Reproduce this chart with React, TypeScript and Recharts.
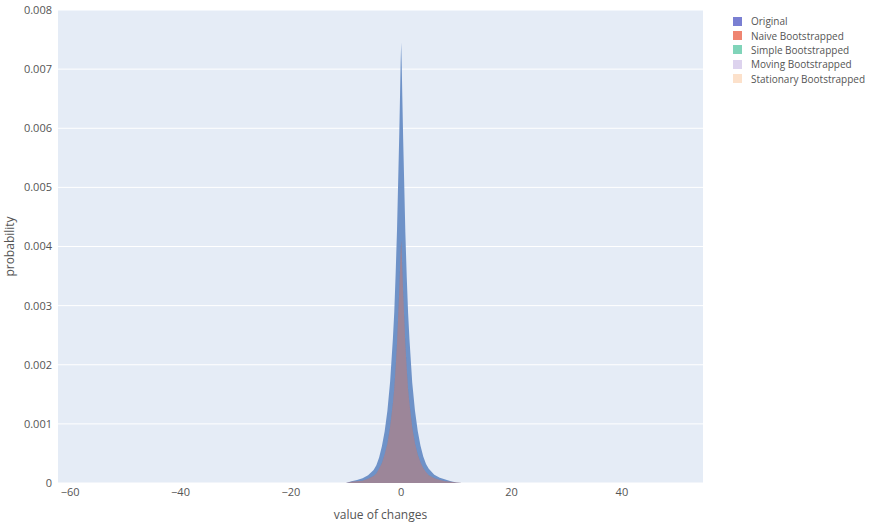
import { ComposedChart, Area, XAxis, YAxis, CartesianGrid, Label } from 'recharts'

const X_VALUES = [-10, -9, -8, -7, -6, -5, -4.5, -4, -3.5, -3, -2.5, -2, -1.5, -1.25, -1, -0.75, -0.5, -0.35, -0.2, -0.1, 0, 0.1, 0.2, 0.35, 0.5, 0.75, 1, 1.25, 1.5, 2, 2.5, 3, 3.5, 4, 4.5, 5, 6, 7, 8, 9, 10, 11]

const ORIGINAL = [0, 0.00003, 0.00005, 0.00008, 0.00013, 0.00022, 0.0003, 0.00043, 0.00062, 0.00087, 0.00122, 0.00172, 0.00245, 0.0029, 0.00355, 0.0043, 0.0053, 0.0059, 0.0066, 0.0071, 0.00745, 0.00705, 0.00655, 0.00585, 0.00525, 0.00425, 0.0035, 0.00288, 0.00243, 0.0017, 0.00122, 0.00088, 0.00063, 0.00045, 0.00032, 0.00024, 0.00014, 0.00009, 0.00006, 0.00003, 0.00001, 0]
const NAIVE = [0, 0.00002, 0.00003, 0.00004, 0.00007, 0.00012, 0.00016, 0.00024, 0.00034, 0.00048, 0.00067, 0.00095, 0.00135, 0.0016, 0.00195, 0.00237, 0.00292, 0.00325, 0.00363, 0.0039, 0.0041, 0.00388, 0.0036, 0.00322, 0.00289, 0.00234, 0.00193, 0.00158, 0.00134, 0.00094, 0.00067, 0.00048, 0.00035, 0.00025, 0.00018, 0.00013, 0.00008, 0.00005, 0.00003, 0.00002, 0.00001, 0]
const SIMPLE = [0, 0.00002, 0.00003, 0.00004, 0.00007, 0.00012, 0.00017, 0.00023, 0.00035, 0.00047, 0.00068, 0.00094, 0.00136, 0.00159, 0.00196, 0.00236, 0.00291, 0.00326, 0.00362, 0.00391, 0.00408, 0.00389, 0.00359, 0.00323, 0.00288, 0.00235, 0.00192, 0.00159, 0.00133, 0.00095, 0.00066, 0.00049, 0.00034, 0.00025, 0.00017, 0.00013, 0.00008, 0.00005, 0.00003, 0.00002, 0.00001, 0]
const MOVING = [0, 0.00002, 0.00003, 0.00004, 0.00007, 0.00012, 0.00016, 0.00024, 0.00034, 0.00048, 0.00067, 0.00094, 0.00134, 0.00161, 0.00194, 0.00238, 0.00293, 0.00324, 0.00364, 0.00389, 0.00411, 0.00387, 0.00361, 0.00321, 0.0029, 0.00233, 0.00194, 0.00157, 0.00135, 0.00093, 0.00068, 0.00047, 0.00035, 0.00024, 0.00018, 0.00012, 0.00008, 0.00005, 0.00003, 0.00002, 0.00001, 0]
const STATIONARY = [0, 0.00002, 0.00003, 0.00004, 0.00007, 0.00012, 0.00016, 0.00024, 0.00033, 0.00048, 0.00066, 0.00095, 0.00135, 0.0016, 0.00195, 0.00236, 0.00292, 0.00325, 0.00362, 0.0039, 0.00409, 0.00388, 0.0036, 0.00322, 0.00289, 0.00234, 0.00193, 0.00158, 0.00134, 0.00094, 0.00067, 0.00048, 0.00034, 0.00025, 0.00018, 0.00013, 0.00008, 0.00005, 0.00003, 0.00002, 0.00001, 0]

const X_TICKS = [-60, -40, -20, 0, 20, 40]
const Y_TICKS = [0, 0.001, 0.002, 0.003, 0.004, 0.005, 0.006, 0.007, 0.008]

const SERIES = [
  { key: 'original', name: 'Original', fill: '#6e92c8', opacity: 1, swatch: '#7a7fd2' },
  { key: 'naive', name: 'Naive Bootstrapped', fill: '#EF553B', opacity: 0.3, swatch: '#ef8571' },
  { key: 'simple', name: 'Simple Bootstrapped', fill: '#00cc96', opacity: 0.08, swatch: '#80d4b9' },
  { key: 'moving', name: 'Moving Bootstrapped', fill: '#ab63fa', opacity: 0.1, swatch: '#ddd3ee' },
  { key: 'stationary', name: 'Stationary Bootstrapped', fill: '#FFA15A', opacity: 0.15, swatch: '#fce1cb' },
]

const rows = X_VALUES.map((x, i) => ({
  x,
  original: ORIGINAL[i],
  naive: NAIVE[i],
  simple: SIMPLE[i],
  moving: MOVING[i],
  stationary: STATIONARY[i],
}))

const FONT = '"Open Sans", sans-serif'
const fmtX = (v: number) => (v < 0 ? '\u2212' + Math.abs(v) : String(v))

export default function App() {
  return (
    <div style={{ position: 'absolute', left: 0, top: 0, width: 876, height: 528, background: '#fff', fontFamily: FONT }}>
      <ComposedChart width={876} height={528} data={rows} margin={{ top: 10, right: 173, left: 0, bottom: 0 }}>
        <CartesianGrid fill="#E5ECF6" stroke="#fff" strokeWidth={1} vertical={false} />
        <XAxis
          dataKey="x"
          type="number"
          domain={[-62.2, 54.7]}
          ticks={X_TICKS}
          tickFormatter={fmtX}
          allowDataOverflow
          axisLine={false}
          tickLine={false}
          tickSize={0}
          tickMargin={5}
          height={45}
          tick={{ fontSize: 11, fill: '#555', fontFamily: FONT }}
        >
          <Label value="value of changes" position="insideBottom" offset={9} style={{ fontSize: 12, fill: '#555', fontFamily: FONT }} />
        </XAxis>
        <YAxis
          type="number"
          domain={[0, 0.008]}
          ticks={Y_TICKS}
          width={58}
          axisLine={false}
          tickLine={false}
          tickSize={0}
          tickMargin={6}
          tick={{ fontSize: 11, fill: '#555', fontFamily: FONT }}
        >
          <Label value="probability" angle={-90} position="insideLeft" offset={10} style={{ textAnchor: 'middle', fontSize: 12, fill: '#555', fontFamily: FONT }} />
        </YAxis>
        {SERIES.map(s => (
          <Area
            key={s.key}
            dataKey={s.key}
            name={s.name}
            type="linear"
            stroke="none"
            fill={s.fill}
            fillOpacity={s.opacity}
            isAnimationActive={false}
          />
        ))}
      </ComposedChart>
      <div style={{ position: 'absolute', left: 733, top: 14 }}>
        {SERIES.map(s => (
          <div key={s.key} style={{ display: 'flex', alignItems: 'center', height: 14.4, fontSize: 10, color: '#555' }}>
            <span style={{ width: 9, height: 9, background: s.swatch, display: 'inline-block', marginRight: 9 }} />
            {s.name}
          </div>
        ))}
      </div>
    </div>
  )
}
